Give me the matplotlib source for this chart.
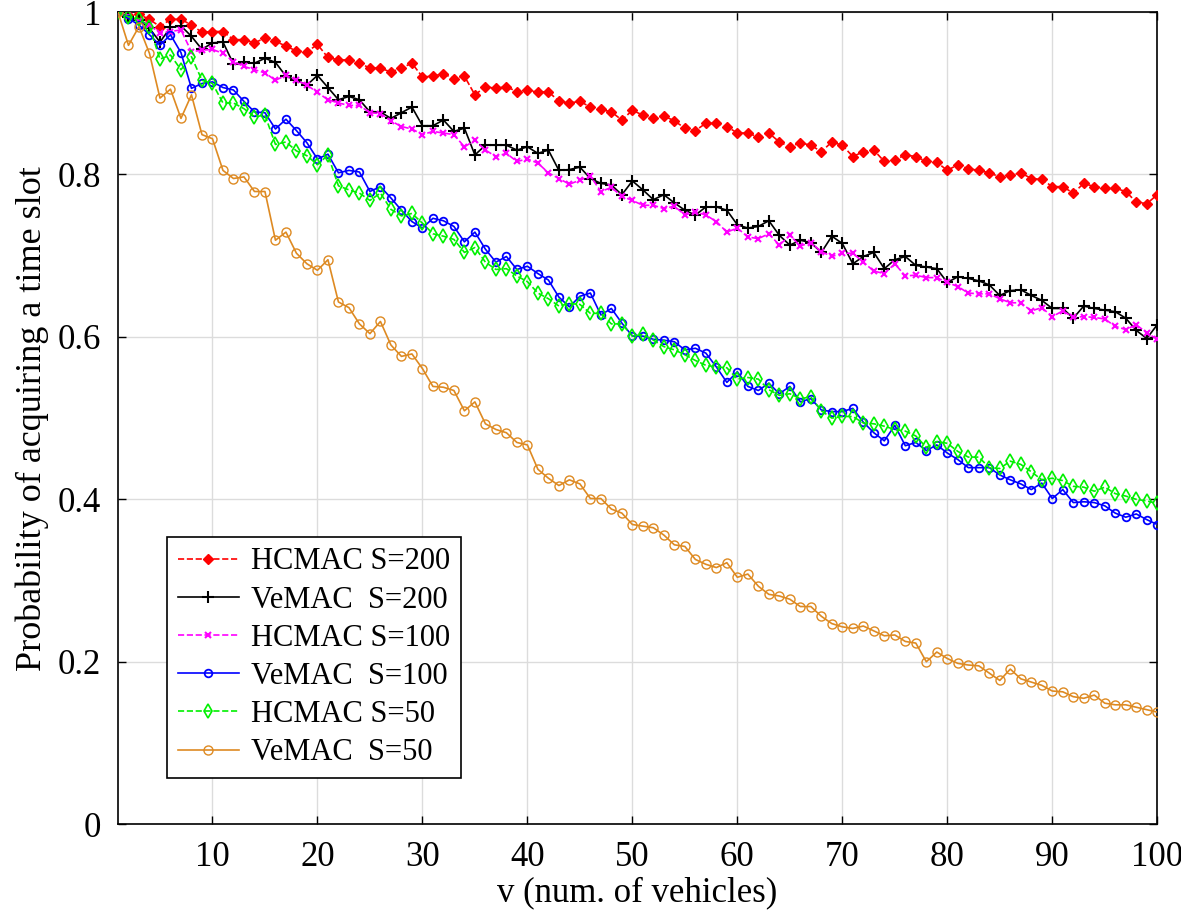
import numpy as np
import matplotlib
matplotlib.use("Agg")
import matplotlib.pyplot as plt

plt.rcParams["font.family"] = ["Liberation Serif", "DejaVu Serif"]

v = np.arange(1, 101)

hcmac_200 = [
    1.000, 0.996, 0.997, 0.991, 0.982, 0.991, 0.991, 0.984, 0.975, 0.976,
    0.976, 0.966, 0.966, 0.962, 0.968, 0.964, 0.958, 0.952, 0.951, 0.960,
    0.944, 0.941, 0.941, 0.937, 0.931, 0.931, 0.926, 0.931, 0.937, 0.920,
    0.921, 0.924, 0.918, 0.921, 0.898, 0.908, 0.906, 0.908, 0.902, 0.904,
    0.901, 0.902, 0.890, 0.888, 0.890, 0.883, 0.880, 0.877, 0.867, 0.879,
    0.873, 0.870, 0.872, 0.866, 0.857, 0.854, 0.863, 0.863, 0.859, 0.851,
    0.851, 0.846, 0.851, 0.840, 0.834, 0.839, 0.836, 0.828, 0.840, 0.836,
    0.822, 0.828, 0.830, 0.816, 0.818, 0.824, 0.822, 0.816, 0.815, 0.805,
    0.812, 0.807, 0.805, 0.802, 0.797, 0.799, 0.802, 0.795, 0.794, 0.785,
    0.785, 0.777, 0.789, 0.785, 0.783, 0.783, 0.779, 0.766, 0.764, 0.775,
]

vemac_200 = [
    1.000, 0.994, 0.990, 0.980, 0.963, 0.981, 0.983, 0.970, 0.954, 0.962,
    0.963, 0.936, 0.938, 0.937, 0.943, 0.938, 0.921, 0.916, 0.910, 0.922,
    0.907, 0.892, 0.896, 0.892, 0.877, 0.877, 0.869, 0.876, 0.883, 0.860,
    0.860, 0.867, 0.853, 0.857, 0.824, 0.836, 0.836, 0.836, 0.830, 0.834,
    0.826, 0.830, 0.805, 0.806, 0.809, 0.795, 0.789, 0.787, 0.775, 0.792,
    0.781, 0.769, 0.775, 0.765, 0.756, 0.750, 0.760, 0.760, 0.756, 0.738,
    0.734, 0.736, 0.743, 0.725, 0.713, 0.719, 0.716, 0.704, 0.724, 0.715,
    0.690, 0.699, 0.704, 0.684, 0.695, 0.699, 0.688, 0.686, 0.684, 0.667,
    0.674, 0.672, 0.669, 0.664, 0.651, 0.657, 0.658, 0.651, 0.645, 0.635,
    0.635, 0.623, 0.638, 0.635, 0.633, 0.631, 0.623, 0.608, 0.598, 0.615,
]

hcmac_100 = [
    1.000, 0.995, 0.989, 0.984, 0.974, 0.976, 0.978, 0.951, 0.953, 0.954,
    0.949, 0.939, 0.933, 0.929, 0.925, 0.916, 0.922, 0.916, 0.910, 0.901,
    0.892, 0.888, 0.885, 0.885, 0.876, 0.875, 0.866, 0.859, 0.856, 0.849,
    0.853, 0.851, 0.849, 0.834, 0.842, 0.830, 0.822, 0.826, 0.816, 0.819,
    0.814, 0.802, 0.795, 0.788, 0.793, 0.798, 0.779, 0.784, 0.773, 0.768,
    0.762, 0.762, 0.758, 0.761, 0.750, 0.754, 0.750, 0.742, 0.729, 0.734,
    0.723, 0.721, 0.727, 0.713, 0.725, 0.712, 0.716, 0.705, 0.699, 0.703,
    0.703, 0.692, 0.681, 0.678, 0.690, 0.675, 0.676, 0.673, 0.673, 0.667,
    0.662, 0.654, 0.653, 0.653, 0.647, 0.642, 0.642, 0.632, 0.636, 0.625,
    0.632, 0.624, 0.625, 0.624, 0.622, 0.613, 0.609, 0.615, 0.605, 0.597,
]

vemac_100 = [
    1.000, 0.992, 0.984, 0.972, 0.959, 0.972, 0.950, 0.906, 0.912, 0.914,
    0.907, 0.904, 0.890, 0.877, 0.876, 0.856, 0.868, 0.854, 0.839, 0.819,
    0.825, 0.802, 0.805, 0.803, 0.779, 0.785, 0.771, 0.756, 0.742, 0.734,
    0.746, 0.743, 0.736, 0.717, 0.729, 0.708, 0.692, 0.699, 0.683, 0.687,
    0.678, 0.670, 0.649, 0.637, 0.650, 0.654, 0.627, 0.635, 0.617, 0.601,
    0.601, 0.597, 0.596, 0.594, 0.584, 0.586, 0.580, 0.563, 0.544, 0.557,
    0.539, 0.534, 0.543, 0.530, 0.539, 0.520, 0.524, 0.510, 0.508, 0.508,
    0.512, 0.495, 0.482, 0.472, 0.491, 0.466, 0.470, 0.460, 0.467, 0.457,
    0.449, 0.439, 0.439, 0.439, 0.430, 0.424, 0.419, 0.412, 0.420, 0.401,
    0.412, 0.396, 0.397, 0.396, 0.392, 0.383, 0.378, 0.382, 0.375, 0.369,
]

hcmac_50 = [
    1.000, 0.994, 0.992, 0.982, 0.942, 0.947, 0.929, 0.945, 0.916, 0.912,
    0.888, 0.888, 0.881, 0.871, 0.873, 0.837, 0.840, 0.829, 0.823, 0.812,
    0.824, 0.786, 0.781, 0.777, 0.768, 0.777, 0.757, 0.749, 0.752, 0.740,
    0.727, 0.724, 0.720, 0.704, 0.710, 0.692, 0.683, 0.684, 0.675, 0.668,
    0.654, 0.647, 0.638, 0.641, 0.640, 0.629, 0.629, 0.616, 0.616, 0.601,
    0.603, 0.596, 0.588, 0.584, 0.578, 0.571, 0.565, 0.563, 0.562, 0.548,
    0.550, 0.548, 0.535, 0.528, 0.530, 0.524, 0.526, 0.509, 0.500, 0.502,
    0.502, 0.494, 0.493, 0.490, 0.486, 0.484, 0.478, 0.464, 0.471, 0.469,
    0.459, 0.452, 0.452, 0.439, 0.438, 0.447, 0.443, 0.434, 0.424, 0.426,
    0.423, 0.416, 0.415, 0.410, 0.415, 0.407, 0.404, 0.400, 0.398, 0.395,
]

vemac_50 = [
    1.000, 0.959, 0.982, 0.949, 0.894, 0.905, 0.869, 0.898, 0.849, 0.844,
    0.805, 0.795, 0.797, 0.779, 0.779, 0.719, 0.729, 0.703, 0.690, 0.682,
    0.695, 0.643, 0.636, 0.616, 0.604, 0.619, 0.590, 0.576, 0.579, 0.561,
    0.539, 0.538, 0.534, 0.509, 0.520, 0.493, 0.486, 0.482, 0.470, 0.467,
    0.437, 0.426, 0.417, 0.424, 0.419, 0.401, 0.401, 0.388, 0.383, 0.369,
    0.367, 0.365, 0.356, 0.344, 0.342, 0.326, 0.320, 0.316, 0.322, 0.304,
    0.308, 0.293, 0.283, 0.281, 0.277, 0.268, 0.268, 0.256, 0.247, 0.243,
    0.241, 0.244, 0.238, 0.232, 0.233, 0.225, 0.223, 0.200, 0.212, 0.204,
    0.198, 0.196, 0.195, 0.186, 0.177, 0.191, 0.179, 0.175, 0.171, 0.164,
    0.163, 0.157, 0.155, 0.159, 0.149, 0.147, 0.147, 0.144, 0.141, 0.138,
]

labels = ["HCMAC S=200", "VeMAC  S=200", "HCMAC S=100",
          "VeMAC  S=100", "HCMAC S=50", "VeMAC  S=50"]

orange = "#DE8A22"

fig = plt.figure(figsize=(11.81, 9.24), dpi=100)
ax = fig.add_axes([0.0999, 0.108, 0.880, 0.879])

lw = 1.2
ax.plot(v, hcmac_200, "--", color="red", lw=lw, marker="D", ms=5.5,
        mfc="red", mec="red", label=labels[0], zorder=3)
ax.plot(v, vemac_200, "-", color="black", lw=lw, marker="+", ms=9,
        mew=1.5, label=labels[1], zorder=3)
ax.plot(v, hcmac_100, "--", color="magenta", lw=lw, marker="x", ms=5,
        mew=1.5, label=labels[2], zorder=3)
ax.plot(v, vemac_100, "-", color="blue", lw=lw, marker="o", ms=5.5,
        mfc="none", mew=1.3, label=labels[3], zorder=3)
ax.plot(v, hcmac_50, "--", color="#00F000", lw=lw, marker="d", ms=7,
        mfc="none", mew=1.2, label=labels[4], zorder=3)
ax.plot(v, vemac_50, "-", color=orange, lw=lw, marker="o", ms=6.5,
        mfc="none", mew=1.0, label=labels[5], zorder=3)

ax.set_xlim(1, 100)
ax.set_ylim(0, 1)
ax.set_xticks(np.arange(10, 101, 10))
ax.set_yticks([0, 0.2, 0.4, 0.6, 0.8, 1])
ax.set_yticklabels(["0", "0.2", "0.4", "0.6", "0.8", "1"])
ax.tick_params(direction="in", length=6, width=1, labelsize=25, pad=12,
               top=True, right=True)
ax.grid(True, color="#dcdcdc", lw=1)
ax.set_axisbelow(True)
for s in ax.spines.values():
    s.set_linewidth(1.2)

ax.set_xlabel("v (num. of vehicles)", fontsize=25, labelpad=2)
ax.set_ylabel("Probability of acquiring a time slot", fontsize=26, labelpad=6)

leg = ax.legend(loc="lower left", bbox_to_anchor=(0.047, 0.057),
                borderaxespad=0, fontsize=22, handlelength=2.0,
                labelspacing=0.3, fancybox=False, edgecolor="black",
                framealpha=1, borderpad=0.35, handletextpad=0.4)
leg.get_frame().set_linewidth(1.2)

fig.savefig("out.png", dpi=100)
